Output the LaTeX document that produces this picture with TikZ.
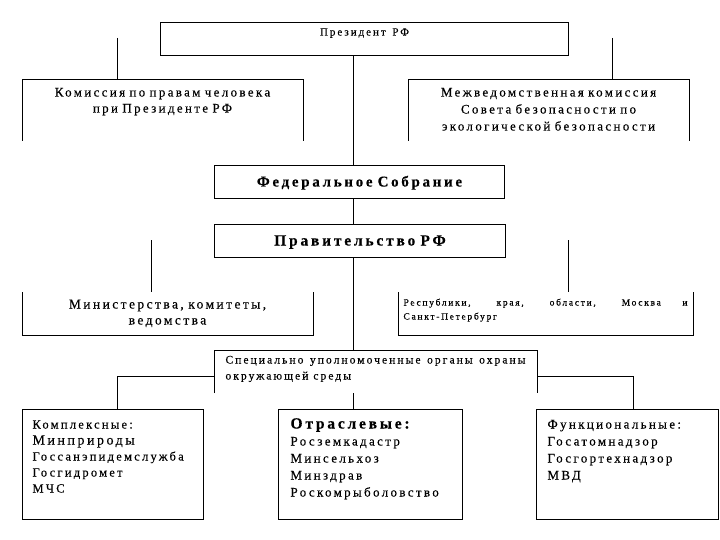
\documentclass[tikz,border=0pt]{standalone}
\usepackage{fontspec}
\setmainfont{Liberation Serif}
\newfontfamily\spaced[LetterSpace=18, FakeBold=0.3]{Liberation Serif}
\usetikzlibrary{positioning}

\begin{document}
\begin{tikzpicture}[
  x = 1pt, y = -1pt,
  line width = 1pt,
  unit/.style = {anchor = north west, inner xsep = 4pt, inner ysep = 0pt},
  open/.style = {line width = 1pt},
  ]

  \useasboundingbox (0, 0) rectangle (720, 540);

  \coordinate (Trunk) at (353, 0);

  \node at (160, 22)
  [unit, draw, name = President, text width = 400pt, text height = 13pt, text depth = 20pt,
   align = center, font = \spaced\fontsize{11}{12}\selectfont] {Президент\hspace{3pt} РФ};

  \node at (22, 80)
  [unit, name = HumanRights, text width = 272pt, text height = 16pt, text depth = 44pt,
   align = center, font = \spaced\fontsize{13}{16}\selectfont]
  {Комиссия по правам человека\\при Президенте РФ};

  \node at (408, 80)
  [unit, name = Interagency, text width = 272pt, text height = 16pt, text depth = 44pt,
   align = center, font = \spaced\fontsize{13}{17}\selectfont]
  {Межведомственная комиссия\\Совета безопасности по\\экологической безопасности};

  \node at (214, 165)
  [unit, draw, name = Federal, text width = 282pt, text height = 21pt, text depth = 12pt,
   align = center, font = \spaced\bfseries\fontsize{15}{18}\selectfont] {Федеральное Собрание};

  \node at (214, 224)
  [unit, draw, name = Government, text width = 283pt, text height = 21pt, text depth = 12pt,
   align = center, font = \spaced\bfseries\fontsize{15.5}{18}\selectfont] {Правительство РФ};

  \node at (22, 292)
  [unit, name = Ministries, text width = 282pt, text height = 16pt, text depth = 26pt,
   align = center, font = \spaced\fontsize{13.5}{16}\selectfont]
  {Министерства, комитеты,\\ведомства};

  \node at (398, 292)
  [unit, name = Regions, inner xsep = 5pt, text width = 284pt, text height = 13pt, text depth = 29pt,
   align = justify, font = \spaced\fontsize{9.5}{14}\selectfont]
  {Республики, края, области, Москва и\linebreak Санкт-Петербург};

  \node at (214, 350)
  [unit, name = Special, inner xsep = 11pt, text width = 300pt, text height = 13pt, text depth = 29pt,
   align = justify, font = \spaced\fontsize{11.5}{16}\selectfont]
  {Специально уполномоченные органы охраны\linebreak окружающей среды};

  \node at (22, 409)
  [unit, draw, name = Complex, inner xsep = 10pt, text width = 161pt, text height = 19pt, text depth = 91pt,
   align = left, font = \spaced\fontsize{12.5}{16}\selectfont]
  {Комплексные:\\{\fontsize{14}{16}\selectfont Минприроды}\\Госсанэпидемслужба\\Госгидромет\\МЧС};

  \node at (278, 409)
  [unit, draw, name = Branch, inner xsep = 12pt, text width = 160pt, text height = 19pt, text depth = 91pt,
   align = left, font = \spaced\fontsize{13}{17}\selectfont]
  {{\bfseries\fontsize{15.5}{17}\selectfont Отраслевые:}\\Росземкадастр\\Минсельхоз\\Минздрав\\Роскомрыболовство};

  \node at (536, 409)
  [unit, draw, name = Functional, inner xsep = 11pt, text width = 160pt, text height = 19pt, text depth = 91pt,
   align = left, font = \spaced\fontsize{13}{17}\selectfont]
  {Функциональные:\\Госатомнадзор\\Госгортехнадзор\\МВД};

  % open frames
  \draw [open] (HumanRights.south west) -- (HumanRights.north west) -- (HumanRights.north east) -- (HumanRights.south east);
  \draw [open] (Interagency.south west) -- (Interagency.north west) -- (Interagency.north east) -- (Interagency.south east);
  \draw [open] (Ministries.north west) -- (Ministries.south west) -- (Ministries.south east) -- (Ministries.north east);
  \draw [open] (Regions.north west) -- (Regions.south west) -- (Regions.south east) -- (Regions.north east);
  \draw [open] (Special.south west) -- (Special.north west) -- (Special.north east) -- (Special.south east);

  % free ends
  \coordinate (CommissionLeft) at (117, 38);
  \coordinate (CommissionRight) at (612, 38);
  \coordinate (MinistriesTop) at (151, 240);
  \coordinate (RegionsTop) at (568, 240);
  \coordinate (BranchLeft) at (117, 376);
  \coordinate (BranchRight) at (633, 376);

  \draw (President.south -| Trunk) -- (Federal.north -| Trunk);
  \draw (Federal.south -| Trunk) -- (Government.north -| Trunk);
  \draw (Government.south -| Trunk) -- (Special.north -| Trunk);
  \draw (Special.south -| Trunk) -- (Branch.north -| Trunk);

  \draw (CommissionLeft) -- (CommissionLeft |- HumanRights.north);
  \draw (CommissionRight) -- (CommissionRight |- Interagency.north);
  \draw (MinistriesTop) -- (MinistriesTop |- Ministries.north);
  \draw (RegionsTop) -- (RegionsTop |- Regions.north);

  \draw (Special.west |- BranchLeft) -- (BranchLeft) -- (BranchLeft |- Complex.north);
  \draw (Special.east |- BranchRight) -- (BranchRight) -- (BranchRight |- Functional.north);

\end{tikzpicture}
\end{document}
